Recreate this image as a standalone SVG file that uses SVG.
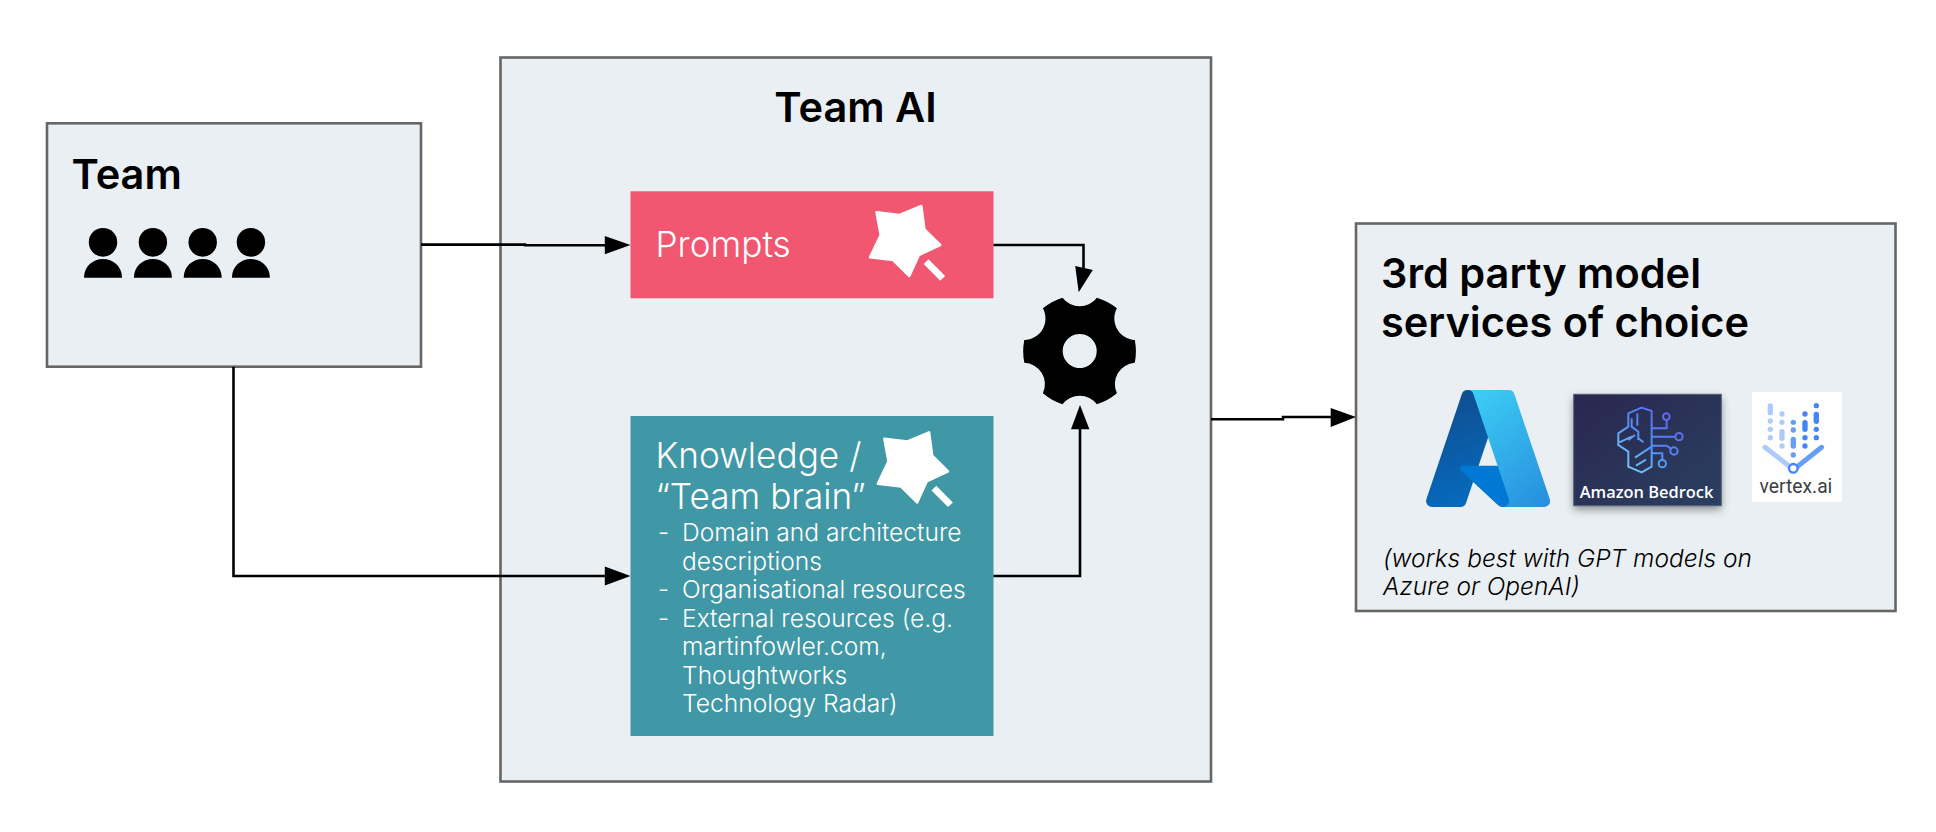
<svg xmlns="http://www.w3.org/2000/svg" width="1936" height="832" viewBox="0 0 1936 832">
<style>
.box{fill:#e9eff2;stroke:#666;stroke-width:2.6}
text{font-family:Inter,"Liberation Sans",sans-serif}
.h{font-size:41.5px;font-weight:600;fill:#000}
.l{font-size:35.2px;font-weight:300;fill:#fff}
.s{font-size:24.6px;font-weight:300;fill:#fff}
.i{font-size:24.5px;font-weight:300;font-style:italic;fill:#000}
.c{fill:none;stroke:#000;stroke-width:2.6}
.a{fill:#000}
.star{fill:#fff;stroke:#fff;stroke-width:2.5;stroke-linejoin:round}
.br{fill:none;stroke-width:6}
</style>
<defs>
<linearGradient id="az1" x1="0" y1="0" x2="0.3" y2="1"><stop offset="0" stop-color="#114a8b"/><stop offset="1" stop-color="#0669bc"/></linearGradient>
<linearGradient id="az2" x1="0.2" y1="0" x2="0.8" y2="1"><stop offset="0" stop-color="#3ccbf4"/><stop offset="1" stop-color="#2892df"/></linearGradient>
<linearGradient id="bg" x1="0" y1="0" x2="1" y2="1"><stop offset="0" stop-color="#2a2650"/><stop offset="1" stop-color="#2a4060"/></linearGradient>
<linearGradient id="brain" gradientUnits="userSpaceOnUse" x1="175" y1="262" x2="360" y2="68"><stop offset="0" stop-color="#7fd6f5"/><stop offset="0.5" stop-color="#4f8df5"/><stop offset="1" stop-color="#6a55e8"/></linearGradient>
<filter id="sh" x="-10%" y="-10%" width="120%" height="125%"><feGaussianBlur stdDeviation="4"/></filter>
<g id="wand">
<polygon class="star" points="876.5,212.3 899.6,215 921.3,206 924.4,229.3 940.2,245 918.9,255 909.3,276 893.1,260 870,257.3 880.7,235"/>
<polygon fill="#fff" points="923.7,264 928.5,259.3 945.1,276 940.2,280.7"/>
</g>
<g id="person">
<ellipse cx="0" cy="0" rx="14.2" ry="14.4"/>
<path d="M-19,35.4 C-19,24 -10,16.7 0,16.7 C10,16.7 19,24 19,35.4 Z"/>
</g>
</defs>
<rect width="1936" height="832" fill="#fff"/>

<g id="team">
<rect class="box" x="47" y="123.3" width="374" height="243.4"/>
<text class="h" x="71.5" y="188.5">Team</text>
<use href="#person" x="103" y="242.3"/>
<use href="#person" x="152.9" y="242.3"/>
<use href="#person" x="202.7" y="242.3"/>
<use href="#person" x="250.9" y="242.3"/>
</g>
<g id="team-ai">
<rect class="box" x="500.5" y="57.5" width="710.5" height="724"/>
<text class="h" x="855.5" y="122" text-anchor="middle">Team AI</text>
</g>
<g id="prompts">
<rect x="630.5" y="191.3" width="363" height="107" fill="#f25771"/>
<text class="l" x="655.5" y="257">Prompts</text>
<use href="#wand"/>
</g>
<g id="knowledge">
<rect x="630.5" y="416" width="363" height="320" fill="#4097a5"/>
<text class="l" x="655.5" y="468">Knowledge /</text>
<text class="l" x="655.5" y="508.5">“Team brain”</text>
<use href="#wand" x="7.8" y="226.4"/>
<text class="s" x="658" y="541">-</text>
<text class="s" x="682" y="541">Domain and architecture</text>
<text class="s" x="682" y="569.5">descriptions</text>
<text class="s" x="658" y="598">-</text>
<text class="s" x="682" y="598">Organisational resources</text>
<text class="s" x="658" y="626.5">-</text>
<text class="s" x="682" y="626.5">External resources (e.g.</text>
<text class="s" x="682" y="655">martinfowler.com,</text>
<text class="s" x="682" y="683.5">Thoughtworks</text>
<text class="s" x="682" y="712">Technology Radar)</text>
</g>
<g id="engine">
<path fill="#000" fill-rule="evenodd" d="M1062.5,297.7 A21.5,21.5 0 0 0 1096.9,297.7 A58,58 0 0 1 1116.9,308.3 A21.5,21.5 0 0 0 1134.8,340 A58,58 0 0 1 1134.8,362.7 A21.5,21.5 0 0 0 1116.9,393.3 A58,58 0 0 1 1096.9,404.3 A21.5,21.5 0 0 0 1062.5,404.3 A58,58 0 0 1 1042.9,393.3 A21.5,21.5 0 0 0 1024.3,362.7 A58,58 0 0 1 1024.3,340 A21.5,21.5 0 0 0 1042.9,308.3 A58,58 0 0 1 1062.5,297.7 Z M1079.7,334 a17,17 0 1 0 0.01,0 Z"/>
</g>
<g id="services">
<rect class="box" x="1356" y="223.5" width="539.5" height="387.5"/>
<text class="h" x="1381" y="287.5">3rd party model</text>
<text class="h" x="1381" y="336.5">services of choice</text>
<text class="i" x="1383" y="567.3">(works best with GPT models on</text>
<text class="i" x="1383" y="595">Azure or OpenAI)</text>
</g>
<g id="azure" transform="translate(1420.4,380.8) scale(1.41)">
<path fill="url(#az1)" d="M33.338 6.544h26.038l-27.03 80.087a4.152 4.152 0 0 1-3.933 2.824H8.149a4.145 4.145 0 0 1-3.928-5.47L29.404 9.368a4.152 4.152 0 0 1 3.934-2.825z"/>
<path fill="#0078d4" d="M71.175 60.261h-41.29a1.911 1.911 0 0 0-1.305 3.309l26.532 24.764a4.171 4.171 0 0 0 2.846 1.121h23.38z"/>
<path fill="url(#az2)" d="M66.595 9.364a4.145 4.145 0 0 0-3.928-2.82H33.648a4.146 4.146 0 0 1 3.928 2.82l25.184 74.62a4.146 4.146 0 0 1-3.928 5.472h29.02a4.146 4.146 0 0 0 3.927-5.472z"/>
</g>
<g id="bedrock">
<rect x="1573.7" y="398" width="147.6" height="111.4" fill="#33393f" opacity="0.55" filter="url(#sh)"/>
<rect x="1573.7" y="394.3" width="147.6" height="111.4" fill="url(#bg)" stroke="#565f78" stroke-width="1"/>
<g transform="translate(1560,385) scale(0.3333)" stroke="url(#brain)">
<path class="br" d="M245,68 L275,78 V245 L245,262 L205,245 V200 L175,180 V145 L205,125 V85 Z"/>
<path class="br" d="M232,85 V122 M215,100 V125 L235,140 V165 M205,165 L225,150 M235,160 L250,172 M178,172 L215,155 M225,218 L275,185 M228,242 L258,224"/>
<path class="br" d="M275,130 H320 V105 M275,155 H345 M275,182 H320 L332,190 M275,205 H307 V225"/>
<circle class="br" cx="319" cy="95" r="10"/><circle class="br" cx="357" cy="155" r="11"/><circle class="br" cx="342" cy="198" r="11"/><circle class="br" cx="307" cy="236" r="11"/>
</g>
<text x="1646.5" y="498" text-anchor="middle" fill="#fff" font-size="16.4" font-weight="600" style="font-family:'Open Sans',sans-serif">Amazon Bedrock</text>
</g>
<g id="vertex">
<rect x="1752" y="392" width="90" height="110" fill="#fff"/>
<g transform="translate(1560,385) scale(0.3333)">
<g fill="#aecbfa"><rect x="623" y="55" width="16" height="36" rx="8"/><circle cx="631" cy="108" r="8"/><circle cx="631" cy="133" r="8"/><circle cx="631" cy="158" r="8"/>
<circle cx="666" cy="87" r="8"/><circle cx="666" cy="112" r="8"/><rect x="658" y="132" width="16" height="36" rx="8"/><circle cx="666" cy="183" r="8"/></g>
<g fill="#669df6"><circle cx="700" cy="112" r="8"/><circle cx="700" cy="135" r="8"/><rect x="692" y="155" width="16" height="36" rx="8"/><circle cx="700" cy="210" r="8"/></g>
<g fill="#4285f4"><circle cx="735" cy="87" r="8"/><rect x="727" y="105" width="16" height="36" rx="8"/><circle cx="735" cy="158" r="8"/><circle cx="735" cy="183" r="8"/>
<circle cx="769" cy="62" r="8"/><rect x="761" y="80" width="16" height="37" rx="8"/><circle cx="769" cy="133" r="8"/><circle cx="769" cy="158" r="8"/></g>
<path d="M615,187 L690,245" stroke="#aecbfa" stroke-width="15" stroke-linecap="round" fill="none"/>
<path d="M785,187 L712,245" stroke="#669df6" stroke-width="15" stroke-linecap="round" fill="none"/>
<circle cx="700" cy="250" r="13" fill="#fff" stroke="#4285f4" stroke-width="7"/>
</g>
<text x="1759.5" y="493" fill="#3c4043" font-size="19.3" style="font-family:Roboto,sans-serif">vertex.ai</text>
</g>
<g id="connectors">
<path class="c" d="M421,244.6 H525 V245.2 H606"/>
<polygon class="a" points="604.8,236 630.5,245 604.8,254.3"/>
<path class="c" d="M233.5,366.7 V576 H606"/>
<polygon class="a" points="604.8,566.5 630.5,576 604.8,585.5"/>
<path class="c" d="M993.5,245 H1083.5 V268"/>
<polygon class="a" points="1075.2,266 1092.8,270 1078.7,292.3"/>
<path class="c" d="M993.5,576 H1080 V428"/>
<polygon class="a" points="1071,429.3 1080,405 1089.4,429.3"/>
<path class="c" d="M1211,419.3 H1283 V417 H1332"/>
<polygon class="a" points="1330.7,408 1356,417 1330.7,427"/>
</g>
</svg>
